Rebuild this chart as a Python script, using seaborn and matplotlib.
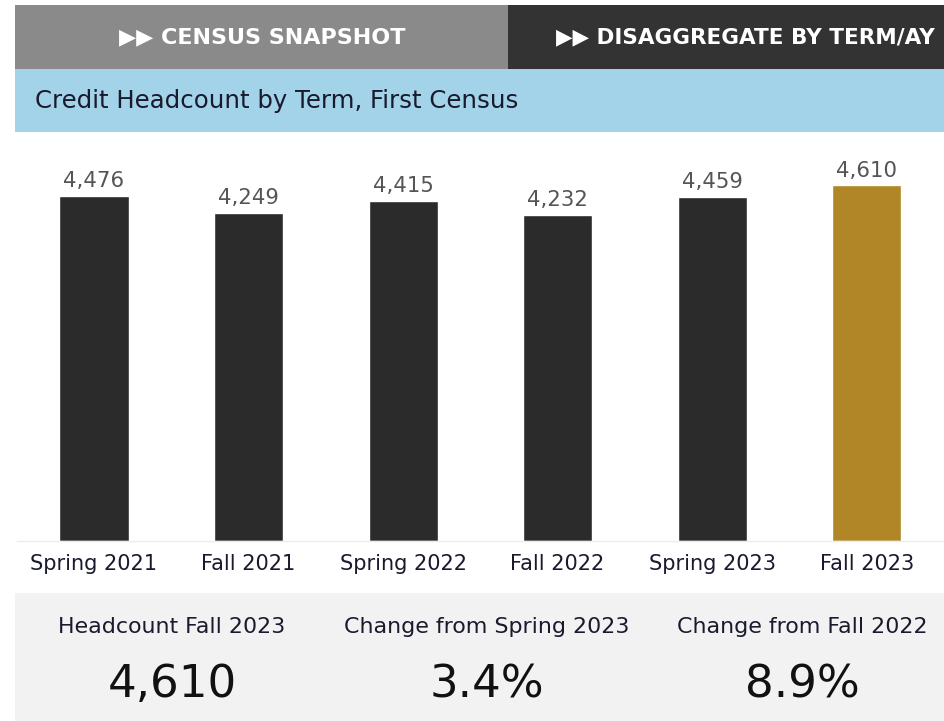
import matplotlib
matplotlib.use("Agg")
import matplotlib.pyplot as plt
import seaborn as sns
import pandas as pd
from matplotlib.patches import Rectangle

terms = ["Spring 2021", "Fall 2021", "Spring 2022", "Fall 2022", "Spring 2023", "Fall 2023"]
headcount = [4476, 4249, 4415, 4232, 4459, 4610]
bar_colors = ["#2b2b2b", "#2b2b2b", "#2b2b2b", "#2b2b2b", "#2b2b2b", "#b08626"]
kpi_titles = ["Headcount Fall 2023", "Change from Spring 2023", "Change from Fall 2022"]
kpi_values = ["4,610", "3.4%", "8.9%"]
tab_labels = ["▶▶ CENSUS SNAPSHOT", "▶▶ DISAGGREGATE BY TERM/AY"]
title = "Credit Headcount by Term, First Census"

sns.set_theme(style="white")
plt.rcParams["font.family"] = ["DejaVu Sans"]

W, H = 944, 721
fig = plt.figure(figsize=(W / 100, H / 100), dpi=100)
fig.patch.set_facecolor("white")

def px_rect(x0, y0, x1, y1, color, z=0):
    fig.patches.append(Rectangle((x0 / W, 1 - y1 / H), (x1 - x0) / W, (y1 - y0) / H,
                                 transform=fig.transFigure, facecolor=color,
                                 edgecolor="none", zorder=z))

# tabs
px_rect(15, 5, 508, 69, "#8a8a8a")
px_rect(508, 5, 944, 69, "#333333")
fig.text(262 / W, 1 - 37 / H, tab_labels[0], color="white", fontsize=16,
         ha="center", va="center", fontweight="bold")
fig.text(556 / W, 1 - 37 / H, tab_labels[1], color="white", fontsize=15.5,
         ha="left", va="center", fontweight="bold")
# title band
px_rect(15, 69, 944, 131.5, "#a2d3e8")
fig.text(35 / W, 1 - 101 / H, title, color="#1a1a2e", fontsize=17.6,
         ha="left", va="center")
# KPI band
px_rect(15, 593, 944, 721, "#f2f2f2")
kpi_x = [172, 487, 802]
for x, t, v in zip(kpi_x, kpi_titles, kpi_values):
    fig.text(x / W, 1 - 627 / H, t, color="#1a1a2e", fontsize=15.9, ha="center", va="center")
    fig.text(x / W, 1 - 685 / H, v, color="#111111", fontsize=32.5, ha="center", va="center")

# bar chart axes
ax_left, ax_right, ax_top, ax_bot = 16.7, 944, 131.5, 540.5
ax = fig.add_axes([ax_left / W, 1 - ax_bot / H, (ax_right - ax_left) / W, (ax_bot - ax_top) / H])
ax.set_facecolor("none")
df = pd.DataFrame({"term": terms, "headcount": headcount})
sns.barplot(data=df, x="term", y="headcount", hue="term", palette=bar_colors,
            order=terms, width=0.447, legend=False, ax=ax, saturation=1)
ax.set_ylim(0, 5311)
ax.set_xlim(-0.5, 5.42)
for i, v in enumerate(headcount):
    ax.annotate(f"{v:,}", (i, v), xytext=(0, 3.5), textcoords="offset points",
                ha="center", va="bottom", fontsize=15.3, color="#555555")
for s in ["top", "right", "left"]:
    ax.spines[s].set_visible(False)
ax.spines["bottom"].set_color("#ececec")
ax.spines["bottom"].set_linewidth(1)
ax.set_yticks([])
ax.set_xlabel("")
ax.set_ylabel("")
ax.tick_params(axis="x", which="major", length=0, pad=10, labelsize=15, labelcolor="#1a1a2e")
ax.set_xticks([i + 0.5 for i in range(-1, 6)], minor=True)
ax.tick_params(axis="x", which="minor", length=7, width=1, color="#ececec", direction="out")

fig.savefig("out.png", dpi=100)
